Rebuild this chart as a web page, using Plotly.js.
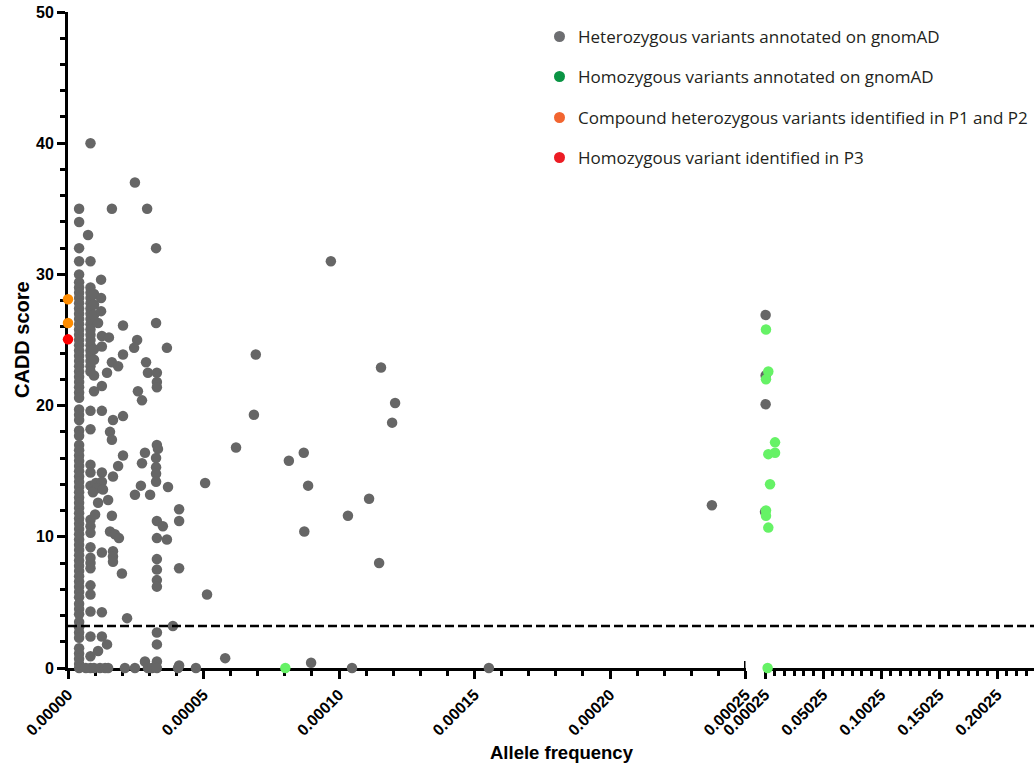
<!DOCTYPE html>
<html>
<head>
<meta charset="utf-8">
<script src="https://cdn.plot.ly/plotly-3.0.1.min.js"></script>
<style>html,body{margin:0;padding:0;background:#fff}#chart{width:1034px;height:768px}</style>
</head>
<body>
<div id="chart"></div>
<script>
// ---- Data (allele frequency, CADD score) ----
// Heterozygous variants annotated on gnomAD
const hetFreq = [
  // dense column ~4.1e-6
  4.1e-6,4.1e-6,4.1e-6,4.1e-6,4.1e-6,4.1e-6,4.1e-6,4.1e-6,4.1e-6,4.1e-6,
  4.1e-6,4.1e-6,4.1e-6,4.1e-6,4.1e-6,4.1e-6,4.1e-6,4.1e-6,4.1e-6,4.1e-6,
  4.1e-6,4.1e-6,4.1e-6,4.1e-6,4.1e-6,4.1e-6,4.1e-6,4.1e-6,4.1e-6,4.1e-6,
  4.1e-6,4.1e-6,4.1e-6,4.1e-6,4.1e-6,4.1e-6,4.1e-6,4.1e-6,4.1e-6,4.1e-6,
  4.1e-6,4.1e-6,4.1e-6,4.1e-6,4.1e-6,4.1e-6,4.1e-6,4.1e-6,4.1e-6,4.1e-6,
  4.1e-6,4.1e-6,4.1e-6,4.1e-6,4.1e-6,4.1e-6,4.1e-6,4.1e-6,4.1e-6,4.1e-6,
  4.1e-6,4.1e-6,4.1e-6,4.1e-6,4.1e-6,4.1e-6,4.1e-6,4.1e-6,4.1e-6,4.1e-6,
  4.1e-6,4.1e-6,4.1e-6,4.1e-6,4.1e-6,
  // column ~8.3e-6
  8.3e-6,8.3e-6,8.3e-6,8.3e-6,8.3e-6,8.3e-6,8.3e-6,8.3e-6,8.3e-6,8.3e-6,
  8.3e-6,8.3e-6,8.3e-6,8.3e-6,8.3e-6,8.3e-6,8.3e-6,8.3e-6,8.3e-6,8.3e-6,
  8.3e-6,8.3e-6,8.3e-6,8.3e-6,8.3e-6,8.3e-6,8.3e-6,8.3e-6,8.3e-6,8.3e-6,
  8.3e-6,8.3e-6,8.3e-6,8.3e-6,8.3e-6,8.3e-6,8.3e-6,
  // column ~9.6e-6
  9.6e-6,9.6e-6,9.6e-6,9.6e-6,9.6e-6,9.6e-6,
  // scattered
  7.4e-6,1.22e-5,1.22e-5,1.22e-5,1.11e-5,2.03e-5,3.25e-5,1.62e-5,2.92e-5,2.47e-5,3.25e-5,
  1.25e-5,1.51e-5,2.55e-5,2.44e-5,3.65e-5,2.03e-5,1.25e-5,1.62e-5,1.85e-5,1.44e-5,
  2.88e-5,2.95e-5,3.28e-5,3.28e-5,3.28e-5,1.25e-5,9.6e-6,2.58e-5,2.73e-5,1.25e-5,
  2.03e-5,1.66e-5,1.55e-5,1.62e-5,3.28e-5,3.32e-5,3.25e-5,2.84e-5,2.03e-5,2.73e-5,
  1.85e-5,3.25e-5,3.25e-5,3.25e-5,1.25e-5,1.66e-5,1.03e-5,1.25e-5,1.07e-5,1.29e-5,
  9.2e-6,2.69e-5,3.69e-5,2.47e-5,3.03e-5,1.48e-5,1.11e-5,4.1e-5,1.62e-5,1.0e-5,
  3.28e-5,4.1e-5,3.5e-5,1.55e-5,1.73e-5,1.88e-5,3.28e-5,3.65e-5,1.25e-5,1.66e-5,
  1.66e-5,1.66e-5,3.28e-5,3.28e-5,3.28e-5,3.28e-5,4.1e-5,1.99e-5,1.25e-5,2.18e-5,
  3.87e-5,3.28e-5,3.28e-5,1.25e-5,1.44e-5,1.11e-5,3.28e-5,2.84e-5,4.1e-5,
  // near zero
  6.6e-6,9.6e-6,1.18e-5,1.37e-5,1.48e-5,2.1e-5,2.47e-5,2.95e-5,3.1e-5,3.28e-5,4.06e-5,4.72e-5,
  // sparse, higher frequencies
  5.06e-5,5.13e-5,5.8e-5,6.2e-5,6.86e-5,6.93e-5,8.15e-5,8.7e-5,8.72e-5,8.86e-5,
  8.97e-5,9.7e-5,1.033e-4,1.048e-4,1.111e-4,1.148e-4,1.155e-4,1.207e-4,1.196e-4,1.553e-4,
  2.376e-4,
  // beyond the axis break
  0.0008,0.0008,0.0008,0.00026
];
const hetCadd = [
  35,34,32,31,30,29.4,29.0,28.6,28.2,27.8,
  27.4,27.0,26.6,26.2,25.8,25.4,25.0,24.6,24.2,23.8,
  23.4,23.0,22.6,22.2,21.8,21.4,21.0,20.6,19.7,19.3,
  18.9,18.1,17.7,17.0,16.6,16.2,15.8,15.4,15.0,14.6,
  14.2,13.8,13.4,13.0,12.6,12.2,11.8,11.4,11.0,10.6,
  10.2,9.8,9.4,9.0,8.6,8.2,7.8,7.4,7.0,6.6,
  6.2,5.8,5.4,4.9,4.5,4.1,3.5,3.1,2.7,2.3,
  1.5,1.1,0.7,0.3,0,
  40,31,29.0,28.6,28.2,27.8,27.4,27.0,26.6,26.2,
  25.8,25.4,25.0,24.6,24.2,23.8,23.4,23.0,22.6,19.6,
  18.2,15.5,14.9,13.9,11.3,10.8,10.3,9.2,8.4,8.0,
  7.6,6.3,5.6,4.3,2.4,0.9,0,
  28.5,27.7,26.9,24.3,23.5,22.3,
  33,29.6,28.2,27.2,26.3,26.1,26.3,35,35,37,32,
  25.3,25.2,25.0,24.4,24.4,23.9,24.5,23.3,23.0,22.5,
  23.3,22.5,22.5,21.8,21.4,21.5,21.1,21.1,20.4,19.6,
  19.2,18.9,18.0,17.4,17.0,16.7,16.0,16.4,16.2,15.6,
  15.4,15.3,14.8,14.2,14.9,14.6,14.1,14.2,13.7,13.6,
  13.4,13.9,13.8,13.2,13.2,12.8,12.6,12.1,11.6,11.7,
  11.2,11.2,10.8,10.4,10.2,9.9,9.9,9.8,8.8,8.9,
  8.5,8.1,8.3,7.5,6.7,6.2,7.6,7.2,4.25,3.8,
  3.2,2.7,1.8,2.4,1.8,1.3,0.5,0.5,0.2,
  0,0,0,0,0,0,0,0,0,0,0,0,
  14.1,5.6,0.75,16.8,19.3,23.9,15.8,16.4,10.4,13.9,
  0.4,31,11.6,0,12.9,8.0,22.9,20.2,18.7,0,
  12.4,
  26.9,22.3,20.1,11.9
];
// Homozygous variants annotated on gnomAD
const homFreq = [8.02e-5, 0.0011,0.0031,0.0011,0.0089,0.0031,0.0089,0.0046,0.0011,0.0011,0.0031,0.0025];
const homCadd = [0, 25.8,22.6,22.0,17.2,16.3,16.4,14.0,12.0,11.6,10.7,0];
// Compound heterozygous variants identified in P1 and P2
const compFreq = [0, 0];
const compCadd = [28.1, 26.3];
// Homozygous variant identified in P3
const p3Freq = [0];
const p3Cadd = [25.05];

const cutoff = 3.2;             // dashed threshold line
const breakAt = 0.00025;        // axis break
const leftTicks = [0, 0.00005, 0.0001, 0.00015, 0.0002, 0.00025];
const leftTickText = ['0.00000','0.00005','0.00010','0.00015','0.00020','0.00025'];
const rightTicks = [0.00025, 0.05025, 0.10025, 0.15025, 0.20025];
const rightTickText = ['0.00025','0.05025','0.10025','0.15025','0.20025'];

const legendLabels = ['Heterozygous variants annotated on gnomAD','Homozygous variants annotated on gnomAD','Compound heterozygous variants identified in P1 and P2','Homozygous variant identified in P3'];
const legendColors = ['#6d6e71','#0a9444','#f26530','#ec1c24'];

// ---- Build traces ----
function split(fx, fy, right) {
  const xs = [], ys = [];
  fx.forEach((v, i) => { if ((v >= breakAt) === right) { xs.push(v); ys.push(fy[i]); } });
  return {x: xs, y: ys};
}
function trace(fx, fy, color, right) {
  const s = split(fx, fy, right);
  return {x: s.x, y: s.y, type: 'scatter', mode: 'markers', xaxis: right ? 'x2' : 'x', yaxis: 'y',
    cliponaxis: false, showlegend: false, hoverinfo: 'x+y',
    marker: {size: 10.5, color: color, line: {width: 0}}};
}
const GRAY = '#666666', GREEN = '#66f266', ORANGE = '#ff8c00', RED = '#ff0000';
const data = [];
[false, true].forEach(r => {
  data.push(trace(hetFreq, hetCadd, GRAY, r));
  data.push(trace(homFreq, homCadd, GREEN, r));
  data.push(trace(compFreq, compCadd, ORANGE, r));
  data.push(trace(p3Freq, p3Cadd, RED, r));
});

const tickFont = {family: 'Liberation Sans, Arial, sans-serif', size: 16, color: '#000', weight: 'bold'};
const axCommon = {showline: true, linewidth: 3, linecolor: '#000', ticks: 'outside', ticklen: 8, tickwidth: 3,
  tickcolor: '#000', showgrid: false, zeroline: false, tickfont: tickFont, layer: 'below traces', fixedrange: true};

const legendY = [36.5, 76.5, 117.5, 157.5];
const shapes = [
  {type: 'line', xref: 'paper', yref: 'y', x0: 0, x1: 1, y0: cutoff, y1: cutoff,
   line: {color: '#000', width: 2.5, dash: '9px,4px'}},
  {type: 'line', xref: 'x', yref: 'paper', x0: breakAt, x1: breakAt, ysizemode: 'pixel', yanchor: 0, y0: -8, y1: 7,
   line: {color: '#000', width: 3}}
];
const annotations = [
  {xref: 'paper', yref: 'paper', x: (562 - 68) / 966, y: 0, yshift: -84, yanchor: 'middle', xanchor: 'center',
   text: 'Allele frequency', showarrow: false, font: {family: 'Liberation Sans, Arial, sans-serif', size: 18.5, color: '#000', weight: 'bold'}},
  {xref: 'paper', yref: 'paper', x: 0, xshift: -46, y: 0.5, textangle: -90, xanchor: 'center', yanchor: 'middle',
   text: 'CADD score', showarrow: false, font: {family: 'Liberation Sans, Arial, sans-serif', size: 20, color: '#000', weight: 'bold'}}
];
legendLabels.forEach((lab, i) => {
  const yp = 1 - (legendY[i] - 12) / 656;
  shapes.push({type: 'circle', xref: 'paper', yref: 'paper', xsizemode: 'pixel', ysizemode: 'pixel',
    xanchor: (559.5 - 68) / 966, yanchor: yp, x0: -5.5, x1: 5.5, y0: -5.5, y1: 5.5,
    fillcolor: legendColors[i], line: {width: 0}});
  annotations.push({xref: 'paper', yref: 'paper', x: (576 - 68) / 966, y: yp, xanchor: 'left', yanchor: 'middle',
    text: lab, showarrow: false, font: {family: 'Open Sans, sans-serif', size: 17, color: '#231f20'}});
});

const layout = {
  width: 1034, height: 768,
  margin: {l: 68, r: 0, t: 12, b: 100, pad: 0},
  paper_bgcolor: '#fff', plot_bgcolor: '#fff',
  showlegend: false,
  xaxis: Object.assign({}, axCommon, {domain: [0, 677.5 / 966], range: [0, breakAt], anchor: 'y',
    tickmode: 'array', tickvals: leftTicks, ticktext: leftTickText, tickangle: -45,
    minor: {ticks: 'outside', ticklen: 5, tickwidth: 3, tickcolor: '#000', dtick: 0.00001, tick0: 0, showgrid: false}}),
  xaxis2: Object.assign({}, axCommon, {domain: [697 / 966, 1], range: [breakAt, 0.2321], anchor: 'y',
    tickmode: 'array', tickvals: rightTicks, ticktext: rightTickText, tickangle: -45,
    minor: {ticks: 'outside', ticklen: 5, tickwidth: 3, tickcolor: '#000', dtick: 0.05 / 6, tick0: 0.00025, showgrid: false}}),
  yaxis: Object.assign({}, axCommon, {range: [0, 50], dtick: 10, tick0: 0, anchor: 'x',
    minor: {ticks: 'outside', ticklen: 5, tickwidth: 3, tickcolor: '#000', dtick: 2, tick0: 0, showgrid: false}}),
  shapes: shapes,
  annotations: annotations
};

Plotly.newPlot('chart', data, layout, {displayModeBar: false, staticPlot: true});
</script>
</body>
</html>
